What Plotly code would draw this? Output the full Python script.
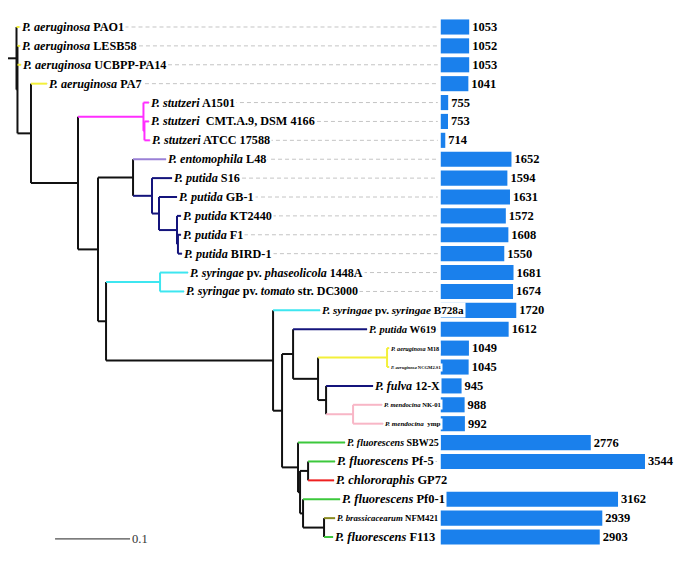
import plotly.graph_objects as go

# ---------------- data ----------------
TREE_NEWICK = (
    "(PAO1:0.004,(LESB58:0.0033,UCBPP:0.0047,(PA7:0.0213,((A1501:0.0073,(CMT:0.006,ATCC:0.0073)stutsub:0.0013)stut:0.0873,"
    "((ento:0.044,(S16:0.0267,(GB1:0.024,(KT2440:0.0053,(F1:0.004,BIRD1:0.0053)G2:0.0013)G:0.024)F:0.0093)E:0.0253)D:0.0467,"
    "((phas:0.0373,tom:0.032)syr:0.072,(B728a:0.0627,((W619:0.0987,((M18:0.0027,NCGM2:0.0027)R:0.092,"
    "(fulva:0.0627,(NK01:0.0387,ymp:0.04)T:0.036)S:0.0107)Q:0.0333)L:0.0147,(SBW25:0.0627,((Pf5:0.036,GP72:0.0347)PG:0.0107,"
    "(Pf01:0.0493,(NFM421:0.0147,F113:0.012)P:0.028)O:0.004)N:0.0027)M:0.0213)K:0.012)I:0.2227)H:0.0107)C:0.0267)B:0.0627)A:0.018)X:0.0013)root:0.0113;"
)

LEAF_LABELS = [
    "<i>P. aeruginosa</i> PAO1",
    "<i>P. aeruginosa</i> LESB58",
    "<i>P. aeruginosa</i> UCBPP-PA14",
    "<i>P. aeruginosa</i> PA7",
    "<i>P. stutzeri</i> A1501",
    "<i>P. stutzeri</i>\u00a0 CMT.A.9, DSM 4166",
    "<i>P. stutzeri</i> ATCC 17588",
    "<i>P. entomophila</i> L48",
    "<i>P. putida</i> S16",
    "<i>P. putida</i> GB-1",
    "<i>P. putida</i> KT2440",
    "<i>P. putida</i> F1",
    "<i>P. putida</i> BIRD-1",
    "<i>P. syringae</i> pv. <i>phaseolicola</i> 1448A",
    "<i>P. syringae</i> pv. <i>tomato</i> str. DC3000",
    "<i>P. syringae</i> pv. <i>syringae</i> B728a",
    "<i>P. putida</i> W619",
    "<i>P. aeruginosa</i> M18",
    "<i>P. aeruginosa</i> NCGM2.S1",
    "<i>P. fulva</i> 12-X",
    "<i>P. mendocina</i> NK-01",
    "<i>P. mendocina</i>\u00a0 ymp",
    "<i>P. fluorescens</i> SBW25",
    "<i>P. fluorescens</i> Pf-5",
    "<i>P. chlororaphis</i> GP72",
    "<i>P. fluorescens</i> Pf0-1",
    "<i>P. brassicacearum</i> NFM421",
    "<i>P. fluorescens</i> F113",
]

LABEL_SIZES = [12.2, 12.2, 12.2, 12.2, 12.2, 12.2, 12.2, 12.2, 12.2, 12.2, 12.2, 12.2, 12.2, 12, 12,
               11.2, 10.6, 6.2, 4.6, 12, 6.6, 7, 10, 12.5, 12.5, 12.5, 8.8, 12.5]

GENE_COUNTS = [1053, 1052, 1053, 1041, 755, 753, 714, 1652, 1594, 1631, 1572, 1608, 1550,
               1681, 1674, 1720, 1612, 1049, 1045, 945, 988, 992, 2776, 3544, None, 3162, 2939, 2903]

YELLOW, MAGENTA, PURPLE, NAVY = "#F3F03A", "#FF2EFF", "#9A80D6", "#14147C"
CYAN, PINK, GREEN, RED, OLIVE, BLACK = "#3EE6F0", "#F8B6C6", "#3CC83C", "#EE2020", "#8A8A20", "#111111"

BRANCH_COLORS = {
    "PAO1": YELLOW, "LESB58": YELLOW, "UCBPP": YELLOW, "PA7": YELLOW,
    "stut": MAGENTA, "stutsub": MAGENTA, "A1501": MAGENTA, "CMT": MAGENTA, "ATCC": MAGENTA,
    "ento": PURPLE,
    "E": NAVY, "S16": NAVY, "F": NAVY, "GB1": NAVY, "G": NAVY, "KT2440": NAVY, "G2": NAVY, "F1": NAVY, "BIRD1": NAVY,
    "syr": CYAN, "phas": CYAN, "tom": CYAN, "B728a": CYAN,
    "W619": NAVY, "R": YELLOW, "M18": YELLOW, "NCGM2": YELLOW, "fulva": NAVY,
    "T": PINK, "NK01": PINK, "ymp": PINK,
    "SBW25": GREEN, "Pf5": GREEN, "Pf01": GREEN, "F113": GREEN, "GP72": RED, "NFM421": OLIVE,
}

SCALE_BAR_LEN = 0.1
BAR_BASE = 650
BAR_COLOR = "#1A80EC"
FONT = "Liberation Serif"

# axis ranges (tree units / gene counts / rows)
TREE_RANGE = [-0.0107, 0.9027]
BAR_RANGE = [-5596, 4111]
Y_RANGE = [28.375, -1.429]
W, H = 685, 563


# ---------------- tree parsing & layout ----------------
def parse_newick(s):
    s = s.strip().rstrip(";")
    pos = 0

    def node():
        nonlocal pos
        n = {"children": []}
        if s[pos] == "(":
            pos += 1
            while True:
                n["children"].append(node())
                if s[pos] == ",":
                    pos += 1
                    continue
                pos += 1
                break
        st = pos
        while pos < len(s) and s[pos] not in ":,()":
            pos += 1
        n["name"] = s[st:pos]
        n["length"] = 0.0
        if pos < len(s) and s[pos] == ":":
            pos += 1
            st = pos
            while pos < len(s) and s[pos] not in ",()":
                pos += 1
            n["length"] = float(s[st:pos])
        return n

    return node()


tree = parse_newick(TREE_NEWICK)
leaves = []


def layout(n, px):
    n["px"] = px
    n["x"] = px + n["length"]
    if not n["children"]:
        n["y"] = len(leaves)
        leaves.append(n)
    else:
        for c in n["children"]:
            layout(c, n["x"])
        n["y"] = (n["children"][0]["y"] + n["children"][-1]["y"]) / 2


layout(tree, 0.0)

segs = {}


def collect(n):
    col = BRANCH_COLORS.get(n["name"], BLACK)
    xs, ys = segs.setdefault(col, ([], []))
    xs += [n["px"], n["x"], None]
    ys += [n["y"], n["y"], None]
    if n["children"]:
        xs += [n["x"], n["x"], None]
        ys += [n["children"][0]["y"], n["children"][-1]["y"], None]
        for c in n["children"]:
            collect(c)


collect(tree)

fig = go.Figure()

# dashed leaders from leaf tips to the bar base
base_px = (BAR_BASE - BAR_RANGE[0]) / (BAR_RANGE[1] - BAR_RANGE[0]) * W
lead_end = TREE_RANGE[0] + (base_px - 3) / W * (TREE_RANGE[1] - TREE_RANGE[0])
lx, ly = [], []
for lf in leaves:
    lx += [lf["x"], lead_end, None]
    ly += [lf["y"], lf["y"], None]
fig.add_trace(go.Scatter(x=lx, y=ly, mode="lines", line=dict(color="#C4C4C4", width=1, dash="4px,3px"),
                         hoverinfo="skip", showlegend=False))

order = [BLACK] + [c for c in segs if c != BLACK]
for col in order:
    xs, ys = segs[col]
    fig.add_trace(go.Scatter(x=xs, y=ys, mode="lines", line=dict(color=col, width=2),
                             hoverinfo="skip", showlegend=False))

# scale bar
sb_x0 = 0.0627
sb_y = 27.1
fig.add_trace(go.Scatter(x=[sb_x0, sb_x0 + SCALE_BAR_LEN], y=[sb_y, sb_y], mode="lines",
                         line=dict(color="#222222", width=1), hoverinfo="skip", showlegend=False))

# bars
rows = list(range(len(GENE_COUNTS)))
fig.add_trace(go.Bar(
    x=[(v - BAR_BASE) if v is not None else None for v in GENE_COUNTS],
    y=rows, base=BAR_BASE, orientation="h", xaxis="x2", yaxis="y",
    width=0.8, marker=dict(color=BAR_COLOR, line=dict(width=0)),
    text=[str(v) if v is not None else "" for v in GENE_COUNTS],
    textposition="outside", constraintext="none", cliponaxis=False,
    textfont=dict(family=FONT, size=12.5, color="black", weight="bold"),
    hoverinfo="skip", showlegend=False,
))

annotations = []
for lf, lab, sz in zip(leaves, LEAF_LABELS, LABEL_SIZES):
    annotations.append(dict(
        x=lf["x"], y=lf["y"], xref="x", yref="y", text="<b>" + lab + "</b>",
        showarrow=False, xanchor="left", yanchor="middle", xshift=0,
        bgcolor="white", borderpad=1,
        font=dict(family=FONT, size=sz, color="black"),
    ))
annotations.append(dict(
    x=sb_x0 + SCALE_BAR_LEN, y=sb_y, xref="x", yref="y", text="0.1", showarrow=False,
    xanchor="left", yanchor="middle", font=dict(family=FONT, size=12.5, color="#333333"),
))

fig.update_layout(
    width=W, height=H, margin=dict(l=0, r=0, t=0, b=0),
    paper_bgcolor="white", plot_bgcolor="white",
    xaxis=dict(range=TREE_RANGE, visible=False, fixedrange=True),
    xaxis2=dict(range=BAR_RANGE, visible=False, overlaying="x", anchor="y", fixedrange=True),
    yaxis=dict(range=Y_RANGE, visible=False, fixedrange=True),
    annotations=annotations, hovermode=False, bargap=0.2,
)

fig.write_html("out.html", config={"displayModeBar": False},
               post_script="document.body.style.margin='0';document.body.style.overflow='hidden';")
